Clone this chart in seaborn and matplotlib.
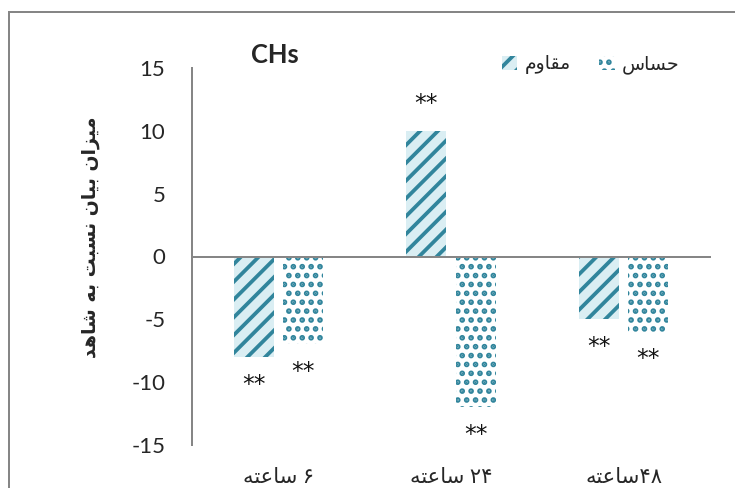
import matplotlib
matplotlib.use("Agg")
import matplotlib.pyplot as plt
from matplotlib.patches import Rectangle, Patch
import seaborn as sns
import pandas as pd

# Persian strings are stored in presentation forms, visual (left-to-right) order,
# because matplotlib does not shape or reorder right-to-left text.
SAATE = "\uFEEA\uFE98\uFECB\uFE8E\uFEB3"          # ساعته
categories = [SAATE + " \u06F6",                  # ۶ ساعته
              SAATE + " \u06F2\u06F4",            # ۲۴ ساعته
              SAATE + "\u06F4\u06F8"]             # ۴۸ساعته
series_names = ["\uFEE1\uFEED\uFE8E\uFED8\uFEE3",  # مقاوم
                "\uFEB1\uFE8E\uFEB4\uFEA3"]        # حساس
resistant = [-8, 10, -5]
sensitive = [-7, -12, -6]
star_labels = ["**", "**", "**"]
y_ticks = [-15, -10, -5, 0, 5, 10, 15]
title = "CHs"
y_label = " ".join([
    "\uFEAA\uFEEB\uFE8E\uFEB7",        # شاهد
    "\uFEEA\uFE91",                    # به
    "\uFE96\uFE92\uFEB4\uFEE7",        # نسبت
    "\uFEE5\uFE8E\uFEF4\uFE91",        # بیان
    "\uFEE5\uFE8D\uFEB0\uFEF4\uFEE3",  # میزان
])

df = pd.DataFrame({
    "time": categories * 2,
    "group": [series_names[0]] * 3 + [series_names[1]] * 3,
    "value": resistant + sensitive,
})

TEAL = "#31859C"
LIGHT = "#DAEEF3"
GRAY = "#868686"

sns.set_style("white")
plt.rcParams["font.family"] = ["Lato", "DejaVu Sans"]
plt.rcParams["hatch.linewidth"] = 1.7

DPI = 160
fig = plt.figure(figsize=(735 / DPI, 488 / DPI), dpi=DPI)
ax = fig.add_axes([192 / 735, 1 - 445 / 488, 518 / 735, 377 / 488])

sns.barplot(data=df, x="time", y="value", hue="group", order=categories,
            hue_order=series_names, width=0.57, gap=0.19, ax=ax,
            palette=[LIGHT, "white"], legend=False, saturation=1)

hatches = ["///", "..."]
faces = [LIGHT, "white"]
for cont, h, fc in zip(ax.containers, hatches, faces):
    for p in cont.patches:
        p.set_hatch(h)
        p.set_facecolor(fc)
        p.set_edgecolor(TEAL)
        p.set_linewidth(0)
    ax.bar_label(cont, labels=star_labels, padding=7, fontsize=10.5,
                 family="DejaVu Sans", color="#111111")

ax.set_xlim(-0.5, 2.5)
ax.set_ylim(-15, 15)
ax.set_yticks(y_ticks)
ax.set_yticklabels([str(v) for v in y_ticks])
ax.tick_params(axis="y", length=0, pad=12, labelsize=10)
ax.set_xlabel("")
ax.set_ylabel("")

for s in ["top", "right"]:
    ax.spines[s].set_visible(False)
ax.spines["left"].set_color(GRAY)
ax.spines["left"].set_linewidth(0.9)
# Category axis crosses at zero
ax.spines["bottom"].set_position(("data", 0))
ax.spines["bottom"].set_color(GRAY)
ax.spines["bottom"].set_linewidth(0.9)
ax.set_xticks([0, 1, 2])
ax.set_xticks([-0.5, 2.5], minor=True)
ax.tick_params(axis="x", which="both", direction="out", length=2.5,
               width=0.9, color=GRAY, labelbottom=False)

# Category names sit below the plot area
sec = ax.secondary_xaxis(0.0)
sec.set_xticks([0, 1, 2])
sec.set_xticklabels(categories)
sec.tick_params(length=0, pad=10, labelsize=9.5)
sec.spines["bottom"].set_visible(False)

handles = [Patch(facecolor=LIGHT, edgecolor=TEAL, hatch="///", linewidth=0),
           Patch(facecolor="white", edgecolor=TEAL, hatch="...", linewidth=0)]
fig.legend(handles, series_names, ncol=2, loc="center",
           bbox_to_anchor=(591 / 735, 1 - 65 / 488), frameon=False,
           fontsize=8.5, handlelength=0.8, handleheight=0.8,
           handletextpad=0.4, columnspacing=1.5)

fig.text(275 / 735, 1 - 55 / 488, title, ha="center", va="center",
         fontsize=11.5, fontweight="bold")
fig.text(90 / 735, 1 - 237 / 488, y_label, ha="center", va="center",
         rotation=90, fontsize=8.5, fontweight="bold", family="DejaVu Sans")

# Chart-area border
fig.patches.append(Rectangle((9 / 735, -0.1), 1.2, 1.1 - 12 / 488,
                             transform=fig.transFigure, fill=False,
                             edgecolor=GRAY, linewidth=0.9))

fig.savefig("out.png", dpi=DPI)
